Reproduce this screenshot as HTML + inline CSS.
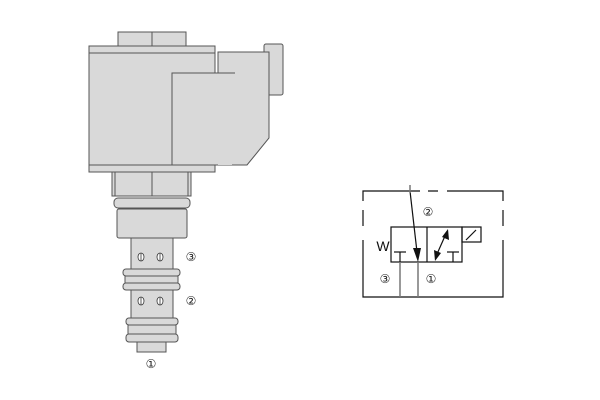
<!DOCTYPE html>
<html><head><style>body{margin:0;background:#fff}svg{display:block}</style></head><body>
<svg width="600" height="400" xmlns="http://www.w3.org/2000/svg" font-family="Liberation Sans, DejaVu Sans, sans-serif">
<g stroke="#555" stroke-width="1" fill="#d9d9d9">
<rect x="118" y="32" width="68" height="15"/>
<line x1="152" y1="32" x2="152" y2="47"/>
<rect x="89" y="46" width="126" height="126"/>
<line x1="89" y1="53" x2="215" y2="53"/>
<line x1="89" y1="165" x2="215" y2="165"/>
<rect x="264" y="44" width="19" height="51" rx="2"/>
<path d="M218 52 H269 V138 L247 165 H218 Z"/>
<rect x="172" y="73" width="60" height="92" stroke="none"/>
<path d="M218 165 H172 V73 H235" fill="none"/>
<rect x="112" y="172" width="79" height="24"/>
<line x1="152" y1="172" x2="152" y2="196"/>
<line x1="115" y1="172" x2="115" y2="196"/>
<line x1="188" y1="172" x2="188" y2="196"/>
<rect x="114" y="198" width="76" height="10" rx="4"/>
<rect x="117" y="209" width="70" height="29" rx="2"/>
<path d="M131 238 H173 V270 H131 Z"/>
<rect x="123" y="269" width="57" height="7" rx="3"/>
<rect x="125" y="276" width="53" height="7"/>
<rect x="123" y="283" width="57" height="7" rx="3"/>
<rect x="131" y="290" width="42" height="30"/>
<rect x="126" y="318" width="52" height="7" rx="3"/>
<rect x="128" y="325" width="48" height="9"/>
<rect x="126" y="334" width="52" height="8" rx="3"/>
<rect x="137" y="342" width="29" height="10"/>
</g>
<g stroke="#333" fill="#fff" stroke-width="0.8">
<ellipse cx="141" cy="257" rx="3" ry="4"/><ellipse cx="160" cy="257" rx="3" ry="4"/>
<ellipse cx="141" cy="301" rx="3" ry="4"/><ellipse cx="160" cy="301" rx="3" ry="4"/>
<line x1="141" y1="253" x2="141" y2="261"/><line x1="160" y1="253" x2="160" y2="261"/>
<line x1="141" y1="297" x2="141" y2="305"/><line x1="160" y1="297" x2="160" y2="305"/>
</g>
<g font-size="12" fill="#222" text-anchor="middle">
<text x="191" y="261">③</text><text x="191" y="305">②</text><text x="151" y="368">①</text>
<text x="428" y="216">②</text><text x="385" y="283">③</text><text x="431" y="283">①</text>
</g>
<g stroke="#111" stroke-width="1.2" fill="none">
<path d="M363 201 V191 H420 M428 191 H438 M447 191 H503 V201"/>
<path d="M363 210 V226 M363 240 V297 H503 V240 M503 226 V210"/>
<rect x="391" y="227" width="71" height="35"/>
<line x1="427" y1="227" x2="427" y2="262"/>
<rect x="462" y="227" width="19" height="15"/>
<line x1="466" y1="240" x2="476" y2="230"/>
<line x1="394" y1="252" x2="406" y2="252"/><line x1="400" y1="252" x2="400" y2="262"/>
<line x1="447" y1="252" x2="459" y2="252"/><line x1="453" y1="252" x2="453" y2="262"/>
<line x1="410" y1="191" x2="417" y2="252"/>
<line x1="445" y1="236" x2="437" y2="254"/>
</g>
<g stroke="#777" stroke-width="1.5"><line x1="410" y1="185" x2="410" y2="193"/><line x1="400" y1="262" x2="400" y2="297"/><line x1="418" y1="262" x2="418" y2="297"/></g>
<g fill="#111">
<polygon points="413,248 421,248 418,262"/>
<polygon points="442,237 449,240 448,229"/>
<polygon points="434,250 441,253 435,261"/>
</g>
<text x="383" y="251" font-size="14" text-anchor="middle" fill="#111">W</text>
</svg>
</body></html>
